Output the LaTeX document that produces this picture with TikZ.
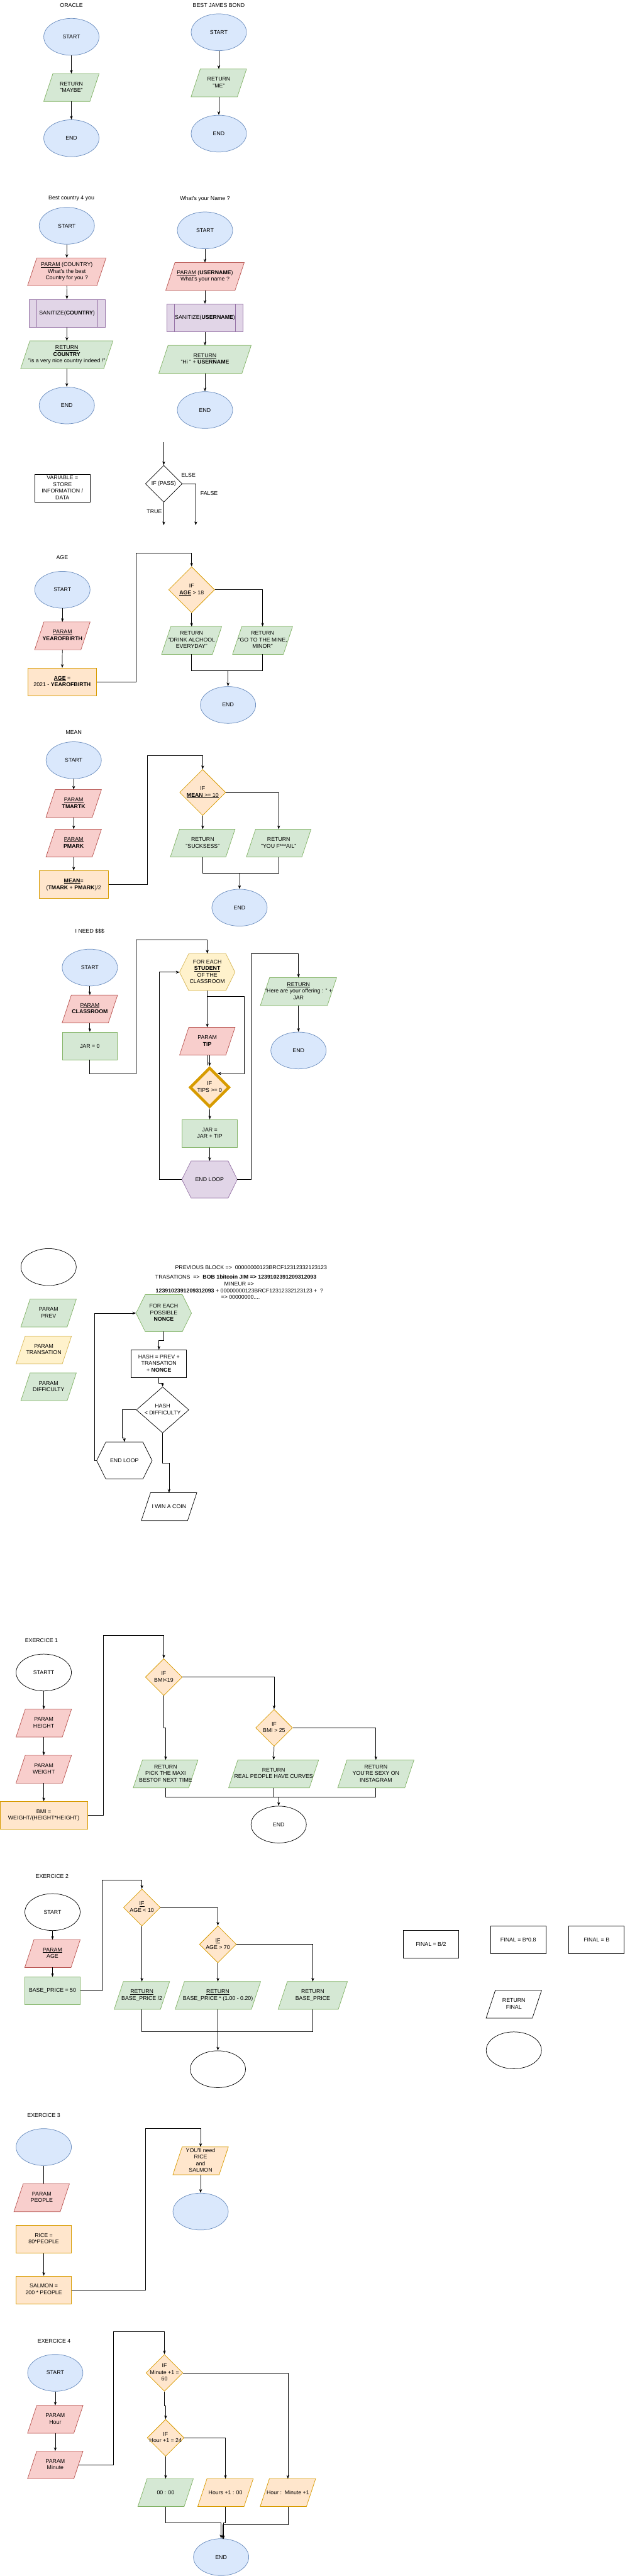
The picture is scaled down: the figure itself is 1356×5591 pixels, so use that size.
\documentclass[tikz,border=0pt]{standalone}
\usepackage{fontspec}
\setmainfont{Liberation Sans}
\usetikzlibrary{shapes.geometric,arrows.meta}
\definecolor{fB}{HTML}{DAE8FC}\definecolor{dB}{HTML}{6C8EBF}
\definecolor{fG}{HTML}{D5E8D4}\definecolor{dG}{HTML}{82B366}
\definecolor{fR}{HTML}{F8CECC}\definecolor{dR}{HTML}{B85450}
\definecolor{fP}{HTML}{E1D5E7}\definecolor{dP}{HTML}{9673A6}
\definecolor{fO}{HTML}{FFE6CC}\definecolor{dO}{HTML}{D79B00}
\definecolor{fY}{HTML}{FFF2CC}\definecolor{dY}{HTML}{D6B656}
\newcommand\T[1]{\makebox[0pt]{\begin{tabular}{@{}c@{}}#1\end{tabular}}}
\newcommand\q{\textquotesingle}
\newcommand\fs{\fontsize{12}{14.4}\selectfont}
\newcommand\hexnode[4]{%
  \node[hexbox] (#2) at (#3) {};
  \draw[#1, line width=1pt] (#2.west) -- ([xshift=20pt]#2.north west) -- ([xshift=-20pt]#2.north east) -- (#2.east) -- ([xshift=-20pt]#2.south east) -- ([xshift=20pt]#2.south west) -- cycle;
  \node[txt] (#2T) at (#2) {#4};}
\newcommand\paranode[5]{%
  \node[pbox, minimum width=#4] (#2) at (#3) {};
  \draw[#1, line width=1pt] ([xshift=20pt]#2.north west) -- (#2.north east) -- ([xshift=-20pt]#2.south east) -- (#2.south west) -- cycle;
  \node[txt] (#2T) at (#2) {#5};}
\tikzset{
  txt/.style={font=\fs, inner sep=0pt, text=black},
  lbl/.style={txt},
  arr/.style={-{Stealth[length=8pt,width=6pt]}, line width=1pt},
  ln/.style={line width=1pt},
  ell/.style={txt, ellipse, minimum width=120pt, minimum height=80pt, line width=1pt},
  rect/.style={txt, rectangle, minimum width=#1, minimum height=60pt, line width=1pt},
  rect/.default=120pt,
  dia/.style={txt, diamond, minimum width=#1, minimum height=#1, line width=1pt},
  dia/.default=80pt,
  hexbox/.style={rectangle, draw=none, minimum width=120pt, minimum height=80pt, inner sep=0pt},
  pbox/.style={rectangle, draw=none, minimum height=60pt, inner sep=0pt},
  cB/.style={fill=fB, draw=dB},
  cG/.style={fill=fG, draw=dG},
  cR/.style={fill=fR, draw=dR},
  cP/.style={fill=fP, draw=dP},
  cO/.style={fill=fO, draw=dO},
  cY/.style={fill=fY, draw=dY},
  cK/.style={fill=white, draw=black},
}
\begin{document}
\begin{tikzpicture}[x=1pt,y=-1pt]
\path[use as bounding box, fill=white] (0,0) rectangle (1356,5591);

% ORACLE
\node[lbl] (tOr) at (155,11) {ORACLE};
\node[ell, cB] (oS) at (155,80) {START};
\paranode{cG}{oR}{155,190}{120pt}{\T{RETURN\\"MAYBE"}}
\node[ell, cB] (oE) at (155,300) {END};
\draw[arr] (oS) -- (oR);
\draw[arr] (oR) -- (oE);

% BEST JAMES BOND
\node[lbl] (tBo) at (475,11) {BEST JAMES BOND};
\node[ell, cB] (bS) at (475,70) {START};
\paranode{cG}{bR}{475,180}{120pt}{\T{RETURN\\"ME"}}
\node[ell, cB] (bE) at (475,290) {END};
\draw[arr] (bS) -- (bR);
\draw[arr] (bR) -- (bE);

% Best country
\node[lbl] (tCo) at (155,431) {Best country 4 you};
\node[ell, cB] (cS) at (145,490) {START};
\paranode{cR}{cPa}{145,590}{170pt}{\T{\underline{PARAM} (COUNTRY)\\What\q s the best\\Country for you ?}}
\node[rect=165pt, cP] (cSan) at (145.5,680) {SANITIZE(\textbf{COUNTRY})};
\draw[ln, dP] ([xshift=17pt]cSan.north west) -- ([xshift=17pt]cSan.south west);
\draw[ln, dP] ([xshift=-17pt]cSan.north east) -- ([xshift=-17pt]cSan.south east);
\paranode{cG}{cRe}{145,770}{200pt}{\T{\underline{RETURN}\\\textbf{COUNTRY}\\"is a very nice country indeed !"}}
\node[ell, cB] (cE) at (145,880) {END};
\draw[arr] (cS) -- (cPa);
\draw[arr] (cPa) -- (cSan);
\draw[arr] (cSan) -- (cRe);
\draw[arr] (cRe) -- (cE);

% What's your name
\node[lbl] (tNa) at (445,431) {What\q s your Name ?};
\node[ell, cB] (nS) at (445,500) {START};
\paranode{cR}{nPa}{445,600}{170pt}{\T{\underline{PARAM} (\textbf{USERNAME})\\What\q s your name ?}}
\node[rect=165pt, cP] (nSan) at (445,690) {SANITIZE(\textbf{USERNAME})};
\draw[ln, dP] ([xshift=17pt]nSan.north west) -- ([xshift=17pt]nSan.south west);
\draw[ln, dP] ([xshift=-17pt]nSan.north east) -- ([xshift=-17pt]nSan.south east);
\paranode{cG}{nRe}{445,780}{200pt}{\T{\underline{RETURN}\\"Hi " + \textbf{USERNAME}}}
\node[ell, cB] (nE) at (445,890) {END};
\draw[arr] (nS) -- (nPa);
\draw[arr] (nPa) -- (nSan);
\draw[arr] (nSan) -- (nRe);
\draw[arr] (nRe) -- (nE);

% Variable + IF PASS
\node[rect, cK] (var) at (135.5,1060) {\T{VARIABLE =\\STORE\\INFORMATION /\\DATA}};
\coordinate (pIn) at (355.5,960);
\node[dia, cK] (pIf) at (355.5,1050) {IF (PASS)};
\coordinate (pF) at (425,1140);
\coordinate (pT) at (355.5,1140);
\draw[arr] (pIn) -- (pIf);
\draw[arr] (pIf.east) -| (pF);
\draw[arr] (pIf.south) -- (pT);
\node[lbl] (lElse) at (409,1031) {ELSE};
\node[lbl] (lFalse) at (454,1071) {FALSE};
\node[lbl] (lTrue) at (335,1111) {TRUE};

% AGE
\node[lbl] (tAge) at (135,1210) {AGE};
\node[ell, cB] (aS) at (135.5,1280) {START};
\paranode{cR}{aP}{135.5,1380}{120pt}{\T{\underline{PARAM}\\\textbf{YEAROFBIRTH}}}
\node[rect=150pt, cO] (aC) at (135,1480) {\T{\underline{\textbf{AGE}} =\\2021 - \textbf{YEAROFBIRTH}}};
\node[dia=100pt, cO] (aIf) at (416,1280) {\T{IF\\\underline{\textbf{AGE}} > 18}};
\paranode{cG}{aR1}{416,1390}{130pt}{\T{RETURN\\"DRINK ALCHOOL\\EVERYDAY"}}
\paranode{cG}{aR2}{570,1390}{130pt}{\T{RETURN\\"GO TO THE MINE,\\MINOR"}}
\node[ell, cB] (aE) at (495,1530) {END};
\coordinate (aL) at (296,1200);
\coordinate (aM) at (495,1455);
\draw[arr] (aS) -- (aP);
\draw[arr] (aP) -- (aC);
\draw[arr] (aC.east) -| (aL) -| (aIf.north);
\draw[arr] (aIf.south) -- (aR1.north);
\draw[arr] (aIf.east) -| (aR2.north);
\draw[ln] (aR1.south) |- (aM);
\draw[ln] (aR2.south) |- (aM);
\draw[arr] (aM) -- (aE.north);

% MEAN
\node[lbl] (tMean) at (160,1590) {MEAN};
\node[ell, cB] (mS) at (160,1650) {START};
\paranode{cR}{mP1}{160,1744}{120pt}{\T{\underline{PARAM}\\\textbf{TMARTK}}}
\paranode{cR}{mP2}{160,1830}{120pt}{\T{\underline{PARAM}\\\textbf{PMARK}}}
\node[rect=150pt, cO] (mC) at (160,1920) {\T{\underline{\textbf{MEAN}}=\\(\textbf{TMARK} + \textbf{PMARK})/2}};
\node[dia=100pt, cO] (mIf) at (440,1720) {\T{IF\\\underline{\textbf{MEAN} >= 10}}};
\paranode{cG}{mR1}{440,1830}{140pt}{\T{RETURN\\"SUCKSESS"}}
\paranode{cG}{mR2}{605,1830}{140pt}{\T{RETURN\\"YOU F***AIL"}}
\node[ell, cB] (mE) at (520,1970) {END};
\coordinate (mL) at (320,1640);
\coordinate (mM) at (520,1895);
\draw[arr] (mS) -- (mP1);
\draw[arr] (mP1) -- (mP2);
\draw[arr] (mP2) -- (mC);
\draw[arr] (mC.east) -| (mL) -| (mIf.north);
\draw[arr] (mIf.south) -- (mR1.north);
\draw[arr] (mIf.east) -| (mR2.north);
\draw[ln] (mR1.south) |- (mM);
\draw[ln] (mR2.south) |- (mM);
\draw[arr] (mM) -- (mE.north);

% I NEED $$$
\node[lbl] (tNeed) at (195,2021) {I NEED \$\$\$};
\node[ell, cB] (sS) at (195,2100) {START};
\paranode{cR}{sP}{195,2190}{120pt}{\T{\underline{PARAM}\\\textbf{CLASSROOM}}}
\node[rect, cG] (sJ) at (195,2270) {JAR = 0};
\hexnode{cY}{sFor}{450,2110}{\T{FOR EACH\\\underline{\textbf{STUDENT}}\\OF THE\\CLASSROOM}}
\paranode{cR}{sTip}{450,2260}{120pt}{\T{PARAM\\\textbf{TIP}}}
\node[txt, diamond, minimum width=86pt, minimum height=86pt, fill=fO, draw=dO, line width=6pt] (sIf) at (455,2360) {\T{IF\\TIPS >= 0}};
\node[rect, cG] (sJ2) at (455.5,2460) {\T{JAR =\\JAR + TIP}};
\hexnode{cP}{sEL}{455,2560}{END LOOP}
\paranode{cG}{sRet}{648,2152}{165pt}{\T{\underline{RETURN}\\"Here are your offering : " +\\JAR}}
\node[ell, cB] (sE) at (648,2280) {END};
\coordinate (sL1) at (296,2330);
\coordinate (sL2) at (296,2040);
\coordinate (sIfE) at (472,2330);
\coordinate (sR1) at (346,2560);
\coordinate (sR2) at (346,2110);
\coordinate (sQ1) at (545,2560);
\coordinate (sQ2) at (545,2070);
\draw[arr] (sS) -- (sP);
\draw[arr] (sP) -- (sJ);
\draw[arr] (sJ.south) |- (sL1) -- (sL2) -| (sFor.north);
\draw[arr] (sFor.south) -- (sTip.north);
\draw[arr] (sFor.south) -- ++(0,12) -| (530,2330) -- (sIfE);
\draw[ln] (sTip.south) -- ++(0,22);
\draw[arr] ([xshift=5pt]sTip.south) -- (sIf.north);
\draw[arr] (sIf.south) -- (sJ2.north);
\draw[arr] (sJ2) -- (sEL.north);
\draw[arr] (sEL.west) -- (sR1) -- (sR2) -- (sFor.west);
\draw[arr] (sEL.east) -- (sQ1) -- (sQ2) -| (sRet.north);
\draw[arr] (sRet) -- (sE);

% Blockchain
\node[ell, cK] (bcC) at (105.5,2750) {};
\node[lbl] (bt1) at (545,2751) {PREVIOUS BLOCK =>\ \ 00000000123BRCF12312332123123};
\node[lbl] (bt2) at (512,2771) {TRASATIONS\ \ =>\ \ \textbf{BOB 1bitcoin JIM => 1239102391209312093}};
\node[lbl] (bt3) at (519,2786) {MINEUR =>};
\node[lbl] (bt4) at (520,2801) {\textbf{1239102391209312093} + 00000000123BRCF12312332123123 +\ \ ?};
\node[lbl] (bt5) at (522,2815) {=> 00000000....};
\paranode{cG}{pPrev}{105.5,2850}{120pt}{\T{PARAM\\PREV}}
\paranode{cY}{pTr}{95,2930}{120pt}{\T{PARAM\\TRANSATION}}
\paranode{cG}{pDif}{105.5,3010}{120pt}{\T{PARAM\\DIFFICULTY}}
\hexnode{cG}{pFor}{355.5,2850}{\T{FOR EACH\\POSSIBLE\\\textbf{NONCE}}}
\node[rect, cK] (pHash) at (345,2960) {\T{HASH = PREV +\\TRANSATION\\+ \textbf{NONCE}}};
\node[dia=100pt, cK, minimum width=114pt] (pDec) at (353,3060) {\T{HASH\\< DIFFICULTY}};
\hexnode{cK}{pEL}{270,3170}{END LOOP}
\paranode{cK}{pWin}{367,3270}{120pt}{I WIN A COIN}
\coordinate (pA1) at (265.5,3060);
\coordinate (pA2) at (265.5,3121);
\coordinate (pB1) at (205,3170);
\coordinate (pB2) at (205,2850);
\coordinate (pC1) at (353,3175);
\draw[arr] (pFor.south) -- ++(0,19) -| (pHash.north);
\draw[arr] (pHash.south) -- ++(0,12) -| (pDec.north);
\draw[arr] (pDec.west) -- (pA1) -- (pA2) -| (pEL.north);
\draw[arr] (pEL.west) -- (pB1) -- (pB2) -- (pFor.west);
\draw[arr] (pDec.south) -- (pC1) -| (pWin.north);

% EXERCICE 1
\node[lbl] (tE1) at (90,3560) {EXERCICE 1};
\node[ell, cK] (e1S) at (95,3630) {STARTT};
\paranode{cR}{e1P1}{95,3740}{120pt}{\T{PARAM\\HEIGHT}}
\paranode{cR}{e1P2}{95,3840}{120pt}{\T{PARAM\\WEIGHT}}
\node[rect=190pt, cO] (e1B) at (95,3940) {\T{BMI =\\WEIGHT/(HEIGHT*HEIGHT)}};
\node[dia, cO] (e1If1) at (355.5,3640) {\T{IF\\BMI<19}};
\node[dia, cO] (e1If2) at (595,3750) {\T{IF\\BMI > 25}};
\paranode{cG}{e1R1}{359.5,3850}{140pt}{\T{RETURN\\PICK THE MAXI\\BESTOF NEXT TIME}}
\paranode{cG}{e1R2}{594,3850}{195pt}{\T{RETURN\\REAL PEOPLE HAVE CURVES}}
\paranode{cG}{e1R3}{816,3850}{165pt}{\T{RETURN\\YOU\q RE SEXY ON\\INSTAGRAM}}
\node[ell, cK] (e1E) at (605,3960) {END};
\coordinate (e1L1) at (225,3940);
\coordinate (e1L2) at (225,3550);
\coordinate (e1J) at (355.5,3750);
\coordinate (e1M) at (605,3900);
\draw[arr] (e1S) -- (e1P1);
\draw[arr] (e1P1) -- (e1P2);
\draw[arr] (e1P2) -- (e1B);
\draw[arr] (e1B.east) -- (e1L1) -- (e1L2) -| (e1If1.north);
\draw[arr] (e1If1.east) -| (e1If2.north);
\draw[arr] (e1If1.south) -- (e1J) -| (e1R1.north);
\draw[arr] (e1If2.south) -- (e1R2.north);
\draw[arr] (e1If2.east) -| (e1R3.north);
\draw[ln] (e1R1.south) |- (e1M);
\draw[ln] (e1R3.south) |- (e1M);
\draw[ln] (e1R2.south) -- (e1R2.south |- e1M);
\draw[arr] (e1M) -- (e1E.north);

% EXERCICE 2
\node[lbl] (tE2) at (113,4073) {EXERCICE 2};
\node[ell, cK] (e2S) at (114,4150) {START};
\paranode{cR}{e2P}{114,4240}{120pt}{\T{\underline{PARAM}\\AGE}}
\node[rect, cG] (e2B) at (114,4321) {BASE\_PRICE = 50};
\node[dia, cO] (e2If1) at (308,4140) {\T{\underline{IF}\\AGE < 10}};
\node[dia, cO] (e2If2) at (473,4220) {\T{\underline{IF}\\AGE > 70}};
\paranode{cG}{e2R1}{308,4331}{120pt}{\T{\underline{RETURN}\\BASE\_PRICE /2}}
\paranode{cG}{e2R2}{473,4331}{185pt}{\T{\underline{RETURN}\\BASE\_PRICE * (1.00 - 0.20)}}
\paranode{cG}{e2R3}{679,4331}{150pt}{\T{RETURN\\BASE\_PRICE}}
\node[ell, cK] (e2E) at (473,4491) {};
\coordinate (e2L1) at (221,4321);
\coordinate (e2L2) at (221,4080);
\coordinate (e2M) at (473,4410);
\draw[arr] (e2S) -- (e2P);
\draw[arr] (e2P) -- (e2B);
\draw[arr] (e2B.east) -- (e2L1) -- (e2L2) -| (e2If1.north);
\draw[arr] (e2If1.east) -| (e2If2.north);
\draw[arr] (e2If1.south) -- (e2R1.north);
\draw[arr] (e2If2.south) -- (e2R2.north);
\draw[arr] (e2If2.east) -| (e2R3.north);
\draw[ln] (e2R1.south) |- (e2M) -| (e2R3.south);
\draw[arr] (e2R2.south) -- (e2E.north);

% FINAL boxes
\node[rect, cK] (f1) at (935.5,4220) {FINAL = B/2};
\node[rect, cK] (f2) at (1125,4210) {FINAL = B*0.8};
\node[rect, cK] (f3) at (1295,4210) {FINAL = B};
\paranode{cK}{fR}{1115.5,4350}{120pt}{\T{RETURN\\FINAL}}
\node[ell, cK] (fC) at (1115.5,4450) {};

% EXERCICE 3
\node[lbl] (tE3) at (95,4591) {EXERCICE 3};
\node[ell, cB] (e3S) at (95,4660) {};
\paranode{cR}{e3P}{90.5,4770}{120pt}{\T{PARAM\\PEOPLE}}
\node[rect, cO] (e3R) at (95,4860) {\T{RICE =\\80*PEOPLE}};
\node[rect, cO] (e3Sa) at (95,4970) {\T{SALMON =\\200 * PEOPLE}};
\paranode{cO}{e3O}{435.5,4690}{120pt}{\T{YOU\q ll need\\RICE\\and\\SALMON}}
\node[ell, cB] (e3E) at (435.5,4800) {};
\coordinate (e3L1) at (315.5,4970);
\coordinate (e3L2) at (315.5,4620);
\draw[ln] (e3S.south) -- (e3S.south |- e3P.north);
\draw[arr] (e3R) -- (e3Sa);
\draw[arr] (e3Sa.east) -- (e3L1) -- (e3L2) -| (e3O.north);
\draw[arr] (e3O) -- (e3E);

% EXERCICE 4
\node[lbl] (tE4) at (117.5,5081) {EXERCICE 4};
\node[ell, cB] (e4S) at (120,5150) {START};
\paranode{cR}{e4H}{120,5251}{120pt}{\T{PARAM\\Hour}}
\paranode{cR}{e4Mi}{120,5350}{120pt}{\T{PARAM\\Minute}}
\node[dia, cO] (e4If1) at (357,5150) {\T{IF\\Minute +1 =\\60}};
\node[dia, cO] (e4If2) at (359.5,5291) {\T{IF\\Hour +1 = 24}};
\paranode{cG}{e4R1}{359.5,5410}{120pt}{00 : 00}
\paranode{cO}{e4R2}{489.5,5410}{120pt}{Hours +1 : 00}
\paranode{cO}{e4R3}{625,5410}{120pt}{Hour :\ \ Minute +1}
\node[ell, cB] (e4E) at (480,5550) {END};
\coordinate (e4L1) at (245.6,5350);
\coordinate (e4L2) at (245.6,5060);
\coordinate (e4J) at (357,5221);
\coordinate (e4Ma) at (480,5475);
\coordinate (e4Mb) at (485,5476);
\coordinate (e4Mc) at (484,5480);
\coordinate (e4Eb) at (485,5511);
\coordinate (e4Ec) at (484,5511);
\draw[arr] (e4S) -- (e4H);
\draw[arr] (e4H) -- (e4Mi);
\draw[arr] ([xshift=-10pt]e4Mi.east) -- (e4L1) -- (e4L2) -| (e4If1.north);
\draw[arr] (e4If1.east) -| (e4R3.north);
\draw[arr] (e4If1.south) -- (e4J) -| (e4If2.north);
\draw[arr] (e4If2.east) -| (e4R2.north);
\draw[arr] (e4If2.south) -- (e4R1.north);
\draw[arr] (e4R1.south) |- (e4Ma) -- (e4E.north);
\draw[arr] (e4R2.south) |- (e4Mb) -- (e4Eb);
\draw[arr] (e4R3.south) |- (e4Mc) -- (e4Ec);
\end{tikzpicture}
\end{document}
